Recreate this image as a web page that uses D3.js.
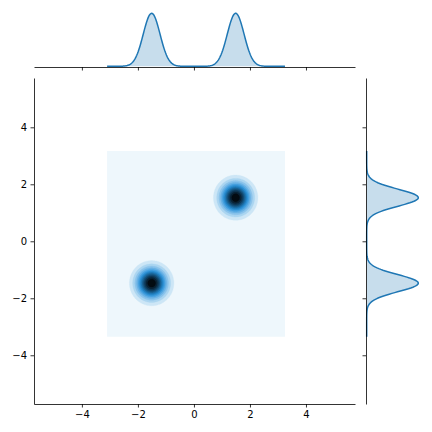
<!DOCTYPE html>
<html lang="en">
<head>
<meta charset="utf-8">
<title>Joint KDE</title>
<style type="text/css">
    body { margin: 0; background: #fff; }
    text { font-family: "DejaVu Sans", sans-serif; font-size: 10px; fill: #000; }
</style>
</head>
<body>
<script src="https://d3js.org/d3.v7.min.js"></script>
<script>

    // two clusters (centre x, centre y, weight) and the kde widths
    var clusterX = [-1.51, 1.49];
    var clusterY = [-1.47, 1.53];
    var clusterW = [0.5, 0.5];
    var margSigma = 0.30;
    var jointSigma = 0.35;
    var gridX = [-3.1, 3.25];
    var gridY = [-3.35, 3.17];
    var xTicks = [-4, -2, 0, 2, 4];
    var yTicks = [-4, -2, 0, 2, 4];
    var baseColor = "#1f77b4";

    var main = {left: 34, right: 355, top: 78, bottom: 404};

    var svg = d3.select("body").append("svg")
                .attr("width", 432)
                .attr("height", 432);

    var xScale = d3.scaleLinear().domain([-5.71, 5.75]).range([main.left, main.right]);
    var yScale = d3.scaleLinear().domain([-5.71, 5.73]).range([main.bottom, main.top]);

    function dens1(v, centers){
        var s = 0;
        for (var i = 0; i < centers.length; i++){
            var z = (v - centers[i]) / margSigma;
            s += clusterW[i] * Math.exp(-0.5*z*z) / (margSigma*Math.sqrt(2*Math.PI));
        }
        return s;
    }
    function dens2(x, y){
        var s = 0;
        for (var i = 0; i < clusterX.length; i++){
            var dx = (x - clusterX[i]) / jointSigma, dy = (y - clusterY[i]) / jointSigma;
            s += clusterW[i] * Math.exp(-0.5*(dx*dx+dy*dy)) / (2*Math.PI*jointSigma*jointSigma);
        }
        return s;
    }

    // colormap: blend from white through the base hue to black (12 stops)
    var hsl = d3.hsl(baseColor);
    var stops = d3.range(12).map(function(i){ return d3.hsl(hsl.h, hsl.s, 1 - i/11).rgb().toString(); });
    var cmap = d3.scaleLinear().domain(d3.range(12).map(function(i){ return i/11; }))
                .range(stops).interpolate(d3.interpolateRgb);

    // joint density grid
    var nx = 160, ny = 160;
    var values = new Array(nx*ny);
    for (var j = 0; j < ny; j++){
        for (var i = 0; i < nx; i++){
            var gx = gridX[0] + (i + 0.5) / nx * (gridX[1] - gridX[0]);
            var gy = gridY[1] - (j + 0.5) / ny * (gridY[1] - gridY[0]);
            values[j*nx + i] = dens2(gx, gy);
        }
    }
    var zmax = d3.max(values);
    var levels = d3.ticks(0, zmax, 10);
    var step = levels[1] - levels[0];
    if (levels[levels.length-1] < zmax) levels.push(levels[levels.length-1] + step);
    var nBands = levels.length - 1;
    function bandColor(k){ return cmap((k + 0.5) / nBands); }

    var joint = svg.append("g");
    joint.append("rect")
        .attr("x", xScale(gridX[0]))
        .attr("y", yScale(gridY[1]))
        .attr("width", xScale(gridX[1]) - xScale(gridX[0]))
        .attr("height", yScale(gridY[0]) - yScale(gridY[1]))
        .attr("fill", bandColor(0));

    var contours = d3.contours().size([nx, ny]).thresholds(levels.slice(1, -1))(values);
    var kx = (xScale(gridX[1]) - xScale(gridX[0])) / nx;
    var ky = (yScale(gridY[0]) - yScale(gridY[1])) / ny;
    var path = d3.geoPath(d3.geoTransform({
        point: function(px, py){
            this.stream.point(xScale(gridX[0]) + px*kx, yScale(gridY[1]) + py*ky);
        }
    }));
    joint.selectAll("path")
        .data(contours)
        .enter()
        .append("path")
        .attr("d", path)
        .attr("fill", function(d, i){ return bandColor(i + 1); })
        .attr("stroke", function(d, i){ return bandColor(i + 1); })
        .attr("stroke-width", 0.3);

    var fmt = function(d){ return d < 0 ? "\u2212" + Math.abs(d) : d; };

    // main axes (left + bottom only)
    var xAxis = d3.axisBottom(xScale).tickValues(xTicks).tickSize(3.5).tickSizeOuter(0)
                .tickPadding(3.5).tickFormat(fmt);
    var yAxis = d3.axisLeft(yScale).tickValues(yTicks).tickSize(3.5).tickSizeOuter(0)
                .tickPadding(3.5).tickFormat(fmt);
    svg.append("g").attr("transform", "translate(0," + main.bottom + ")").call(xAxis);
    svg.append("g").attr("transform", "translate(" + main.left + ",0)").call(yAxis);

    // top marginal
    var topBase = 67, topPeakY = 13.3;
    var xs = d3.range(0, 241).map(function(i){ return gridX[0] + i/240*(gridX[1]-gridX[0]); });
    var topD = xs.map(function(v){ return dens1(v, clusterX); });
    var tScale = d3.scaleLinear().domain([0, d3.max(topD)]).range([topBase - 0.7, topPeakY]);
    var area1 = d3.area().x(function(d, i){ return xScale(xs[i]); }).y0(tScale(0)).y1(function(d){ return tScale(d); });
    var line1 = d3.line().x(function(d, i){ return xScale(xs[i]); }).y(function(d){ return tScale(d); });
    svg.append("path").datum(topD).attr("d", area1).attr("fill", baseColor).attr("fill-opacity", 0.25);
    svg.append("path").datum(topD).attr("d", line1).attr("fill", "none").attr("stroke", baseColor).attr("stroke-width", 1.5);
    var topAxis = d3.axisBottom(xScale).tickValues(xTicks).tickSize(3.5).tickSizeOuter(0).tickFormat("");
    svg.append("g").attr("transform", "translate(0," + topBase + ")").call(topAxis);

    // right marginal
    var rightBase = 366, rightPeakX = 418.3;
    var ys = d3.range(0, 241).map(function(i){ return gridY[0] + i/240*(gridY[1]-gridY[0]); });
    var rightD = ys.map(function(v){ return dens1(v, clusterY); });
    var rScale = d3.scaleLinear().domain([0, d3.max(rightD)]).range([rightBase + 0.7, rightPeakX]);
    var area2 = d3.area().y(function(d, i){ return yScale(ys[i]); }).x0(rScale(0)).x1(function(d){ return rScale(d); });
    var line2 = d3.line().y(function(d, i){ return yScale(ys[i]); }).x(function(d){ return rScale(d); });
    svg.append("path").datum(rightD).attr("d", area2).attr("fill", baseColor).attr("fill-opacity", 0.25);
    svg.append("path").datum(rightD).attr("d", line2).attr("fill", "none").attr("stroke", baseColor).attr("stroke-width", 1.5);
    var rightAxis = d3.axisLeft(yScale).tickValues(yTicks).tickSize(3.5).tickSizeOuter(0).tickFormat("");
    svg.append("g").attr("transform", "translate(" + rightBase + ",0)").call(rightAxis);

    // matplotlib-like axis styling
    svg.selectAll(".domain").attr("stroke", "#000").attr("stroke-width", 0.8);
    svg.selectAll(".tick line").attr("stroke", "#000").attr("stroke-width", 0.8);
    svg.selectAll(".tick text").attr("fill", "#000").style("font-size", "10px")
        .style("font-family", "'DejaVu Sans', sans-serif");

</script>
</body>
</html>
